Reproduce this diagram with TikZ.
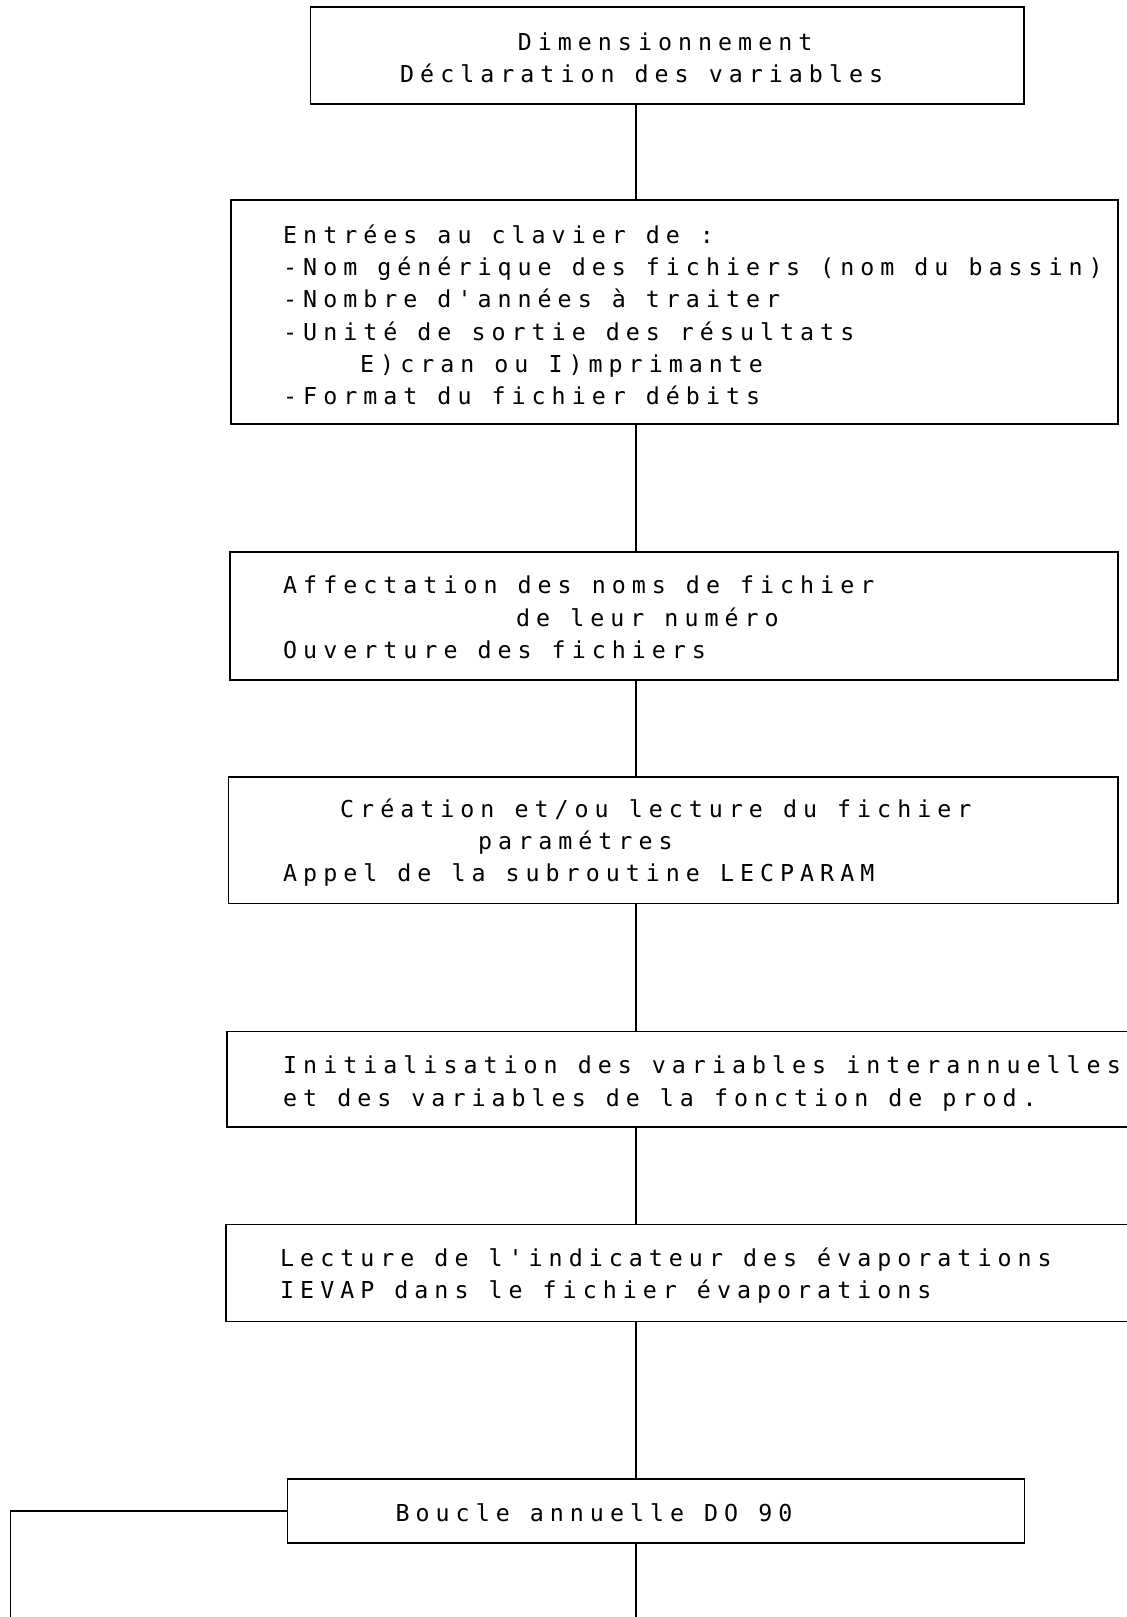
\documentclass[tikz,border=0pt]{standalone}
\usepackage{fontspec}
\newfontfamily\plotfont[LetterSpace=25.8]{DejaVu Sans Mono}
\begin{document}
\begin{tikzpicture}[x=1pt,y=-1pt,
  box/.style={draw,line width=1.8pt,inner sep=0pt,rectangle},
  txt/.style={anchor=base west,inner sep=0pt,font=\plotfont\fontsize{23.3}{28}\selectfont},
  link/.style={line width=1.4pt}]
\useasboundingbox (0,0) rectangle (1127,1617);
\clip (0,0) rectangle (1127,1617);
% boxes
\node[box,minimum width=713.5pt,minimum height=96.7pt] (b1) at (667.3,55.7) {};
\node[box,minimum width=887pt,minimum height=224pt] (b2) at (674.5,312) {};
\node[box,minimum width=888.4pt,minimum height=128.4pt] (b3) at (673.8,615.8) {};
\node[box,minimum width=889.6pt,minimum height=126.8pt] (b4) at (673.2,840.1) {};
\node[box,minimum width=923pt,minimum height=95.8pt] (b5) at (688.5,1079.4) {};
\node[box,minimum width=924pt,minimum height=97pt] (b6) at (688,1273) {};
\node[box,minimum width=737pt,minimum height=64pt] (b7) at (656,1511) {};
% texts
\node[txt] (t1a) at (517.6,50) {Dimensionnement};
\node[txt] (t1b) at (400,82) {Déclaration des variables};
\node[txt] (t2a) at (283,243.3) {Entrées au clavier de :};
\node[txt] (t2b) at (283,275.5) {-Nom générique des fichiers (nom du bassin)};
\node[txt] (t2c) at (283,307.7) {-Nombre d'années à traiter};
\node[txt] (t2d) at (283,340) {-Unité de sortie des résultats};
\node[txt] (t2e) at (360,372) {E)cran ou I)mprimante};
\node[txt] (t2f) at (283,404) {-Format du fichier débits};
\node[txt] (t3a) at (283,593.5) {Affectation des noms de fichier};
\node[txt] (t3b) at (516,626) {de leur numéro};
\node[txt] (t3c) at (283,658.5) {Ouverture des fichiers};
\node[txt] (t4a) at (340,817.5) {Création et/ou lecture du fichier};
\node[txt] (t4b) at (478,849.5) {paramétres};
\node[txt] (t4c) at (283,881.5) {Appel de la subroutine LECPARAM};
\node[txt] (t5a) at (283,1073.5) {Initialisation des variables interannuelles};
\node[txt] (t5b) at (283,1106) {et des variables de la fonction de prod.};
\node[txt] (t6a) at (280,1266.5) {Lecture de l'indicateur des évaporations};
\node[txt] (t6b) at (280,1298) {IEVAP dans le fichier évaporations};
\node[txt] (t7a) at (395.4,1521.7) {Boucle annuelle DO 90};
% connectors
\coordinate (axis) at (636,0);
\coordinate (bottomend) at (636,1630);
\coordinate (lp1) at (10.5,1511);
\coordinate (lp2) at (10.5,1630);
\draw[link] (b1.south -| axis) -- (b2.north -| axis);
\draw[link] (b2.south -| axis) -- (b3.north -| axis);
\draw[link] (b3.south -| axis) -- (b4.north -| axis);
\draw[link] (b4.south -| axis) -- (b5.north -| axis);
\draw[link] (b5.south -| axis) -- (b6.north -| axis);
\draw[link] (b6.south -| axis) -- (b7.north -| axis);
\draw[link] (b7.south -| axis) -- (bottomend);
\draw[line width=1.8pt] (b7.west) -- (lp1) -- (lp2);
\end{tikzpicture}
\end{document}
